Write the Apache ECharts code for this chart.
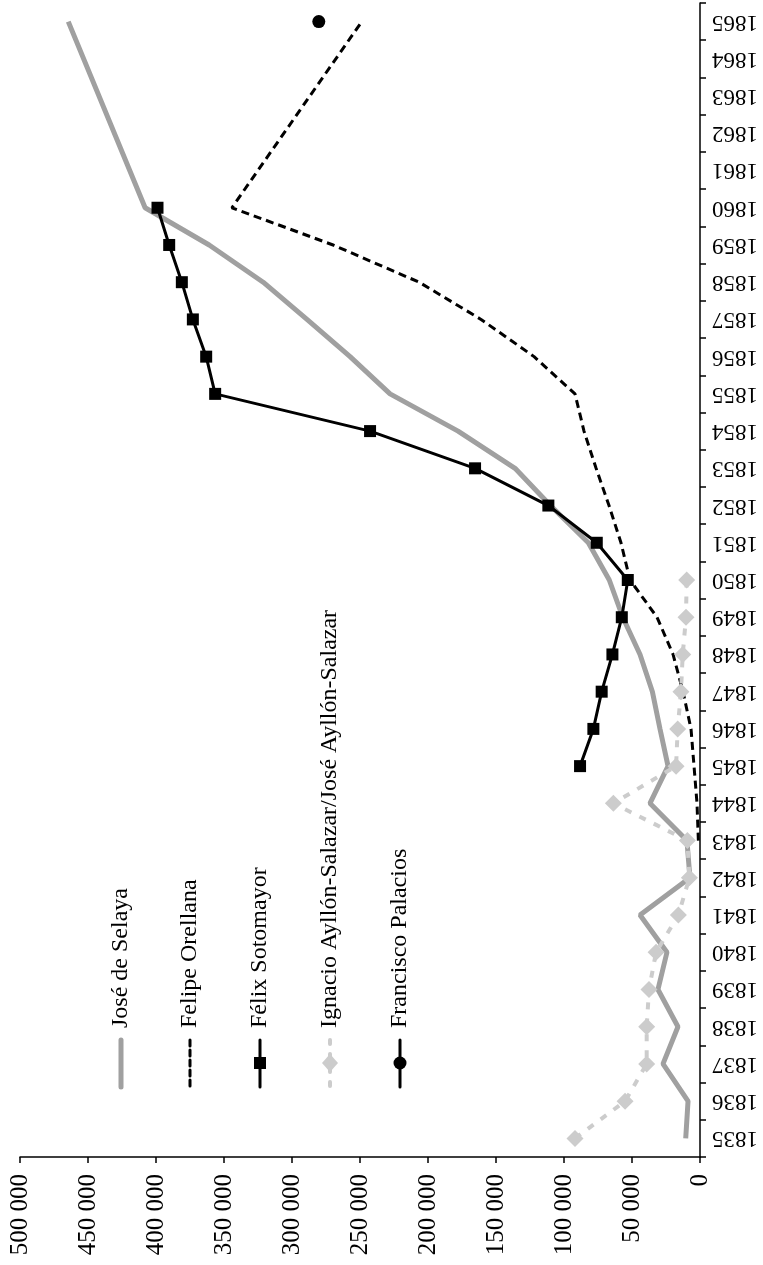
<!DOCTYPE html>
<html>
<head>
<meta charset="utf-8">
<script src="https://cdn.jsdelivr.net/npm/echarts@6/dist/echarts.min.js"></script>
<style>
  html, body { margin: 0; padding: 0; background: #fff; }
  #chart { width: 763px; height: 1265px; }
</style>
</head>
<body>
<div id="chart"></div>
<script>
// years on the vertical axis (bottom -> top)
var years = [];
for (var y = 1835; y <= 1865; y++) years.push(String(y));

var valueTicks = [0, 50000, 100000, 150000, 200000, 250000, 300000, 350000, 400000, 450000, 500000];

// José de Selaya
var selaya = [10500, 8800, 27200, 16200, 30900, 24300, 44100, 7400, 9600, 36800,
  23500, 29400, 35000, 44100, 56800, 66700, 82100, 110000, 136000, 177900,
  227900, 257300, 289000, 321200, 360900, 408000, null, null, null, null, 464500];

// Felipe Orellana
var orellana = [null, null, null, null, null, null, null, null, 1200, 2200,
  4400, 6600, 12500, 19800, 31600, 51500, 58100, 66900, 76400, 85300,
  91900, 122000, 161000, 206500, 269800, 344200, null, null, null, null, 248700];

// Félix Sotomayor
var sotomayor = [null, null, null, null, null, null, null, null, null, null,
  88200, 78400, 72300, 64400, 57500, 53100, 75900, 111500, 165400, 242600,
  356500, 363100, 372900, 381000, 390300, 398900, null, null, null, null, null];

// Ignacio Ayllón-Salazar/José Ayllón-Salazar
var aylon = [91900, 55100, 39200, 39200, 37500, 32300, 15900, 7800, 9300, 63700,
  17600, 16400, 14000, 12700, 10300, 9800, null, null, null, null,
  null, null, null, null, null, null, null, null, null, null, null];

// Francisco Palacios
var palacios = [null, null, null, null, null, null, null, null, null, null,
  null, null, null, null, null, null, null, null, null, null,
  null, null, null, null, null, null, null, null, null, null, 280300];

var seriesNames = ["José de Selaya", "Felipe Orellana", "Félix Sotomayor",
  "Ignacio Ayllón-Salazar/José Ayllón-Salazar", "Francisco Palacios"];

var FONT = "Liberation Serif";

function fmt(v) {
  return String(v).replace(/\B(?=(\d{3})+(?!\d))/g, " ");
}

// legend drawn sideways, like the rest of the figure
var legendX = [121, 190, 260, 330, 400];
var legendGraphics = [];
var iconTop = 1040, iconBottom = 1087, iconMid = 1063;
function legendLine(x, color, width, dash) {
  return {
    type: "line",
    shape: { x1: x, y1: iconTop, x2: x, y2: iconBottom },
    style: { stroke: color, lineWidth: width, lineDash: dash || null, lineCap: "round" }
  };
}
legendGraphics.push(legendLine(legendX[0], "#a0a0a0", 5));
legendGraphics.push(legendLine(legendX[1], "#000", 3, [6, 4]));
legendGraphics.push(legendLine(legendX[2], "#000", 3));
legendGraphics.push({ type: "rect", shape: { x: legendX[2] - 6, y: iconMid - 6, width: 12, height: 12 }, style: { fill: "#000" } });
legendGraphics.push(legendLine(legendX[3], "#cccccc", 4, [4, 10]));
legendGraphics.push({ type: "polygon", shape: { points: [[legendX[3], iconMid - 9], [legendX[3] + 8, iconMid], [legendX[3], iconMid + 9], [legendX[3] - 8, iconMid]] }, style: { fill: "#cccccc" } });
legendGraphics.push(legendLine(legendX[4], "#000", 3));
legendGraphics.push({ type: "circle", shape: { cx: legendX[4], cy: iconMid, r: 6.5 }, style: { fill: "#000" } });
for (var i = 0; i < seriesNames.length; i++) {
  legendGraphics.push({
    type: "text",
    x: legendX[i],
    y: 1028,
    rotation: Math.PI / 2,
    style: {
      text: seriesNames[i],
      font: "24px '" + FONT + "'",
      fill: "#000",
      align: "left",
      verticalAlign: "middle"
    }
  });
}

var chart = echarts.init(document.getElementById("chart"));
var option = {
  animation: false,
  backgroundColor: "#fff",
  grid: { left: 20, right: 63, top: 3, bottom: 108, containLabel: false, outerBoundsMode: "none" },
  xAxis: {
    type: "value",
    inverse: true,
    position: "bottom",
    min: valueTicks[0],
    max: valueTicks[valueTicks.length - 1],
    interval: 50000,
    splitLine: { show: false },
    axisLine: { show: true, onZero: false, lineStyle: { color: "#000", width: 1.5 } },
    axisTick: { show: true, length: 6, lineStyle: { color: "#000", width: 1.5 } },
    axisLabel: {
      rotate: 90,
      margin: 17,
      color: "#000",
      fontFamily: FONT,
      fontSize: 25,
      formatter: fmt
    }
  },
  yAxis: {
    type: "category",
    data: years,
    position: "right",
    boundaryGap: true,
    axisLine: { show: true, onZero: false, lineStyle: { color: "#000", width: 1.5 } },
    axisTick: { show: true, length: 6, lineStyle: { color: "#000", width: 1.5 } },
    axisLabel: {
      rotate: 180,
      margin: 12,
      color: "#000",
      fontFamily: FONT,
      fontSize: 23,
      interval: 0
    },
    splitLine: { show: false }
  },
  graphic: legendGraphics,
  series: [
    {
      name: seriesNames[0],
      type: "line",
      data: selaya,
      connectNulls: true,
      symbol: "none",
      lineStyle: { color: "#a0a0a0", width: 5 },
      itemStyle: { color: "#a0a0a0" },
      z: 2
    },
    {
      name: seriesNames[1],
      type: "line",
      data: orellana,
      connectNulls: true,
      symbol: "none",
      lineStyle: { color: "#000", width: 3, type: [8, 5] },
      itemStyle: { color: "#000" },
      z: 3
    },
    {
      name: seriesNames[2],
      type: "line",
      data: sotomayor,
      symbol: "rect",
      symbolSize: 12,
      lineStyle: { color: "#000", width: 3 },
      itemStyle: { color: "#000" },
      z: 4
    },
    {
      name: seriesNames[3],
      type: "line",
      data: aylon,
      symbol: "diamond",
      symbolSize: 17,
      lineStyle: { color: "#cccccc", width: 4, type: [7, 9] },
      itemStyle: { color: "#cccccc" },
      z: 5
    },
    {
      name: seriesNames[4],
      type: "line",
      data: palacios,
      symbol: "circle",
      symbolSize: 13,
      showSymbol: true,
      lineStyle: { color: "#000", width: 3 },
      itemStyle: { color: "#000" },
      z: 6
    }
  ]
};
chart.setOption(option);
</script>
</body>
</html>
